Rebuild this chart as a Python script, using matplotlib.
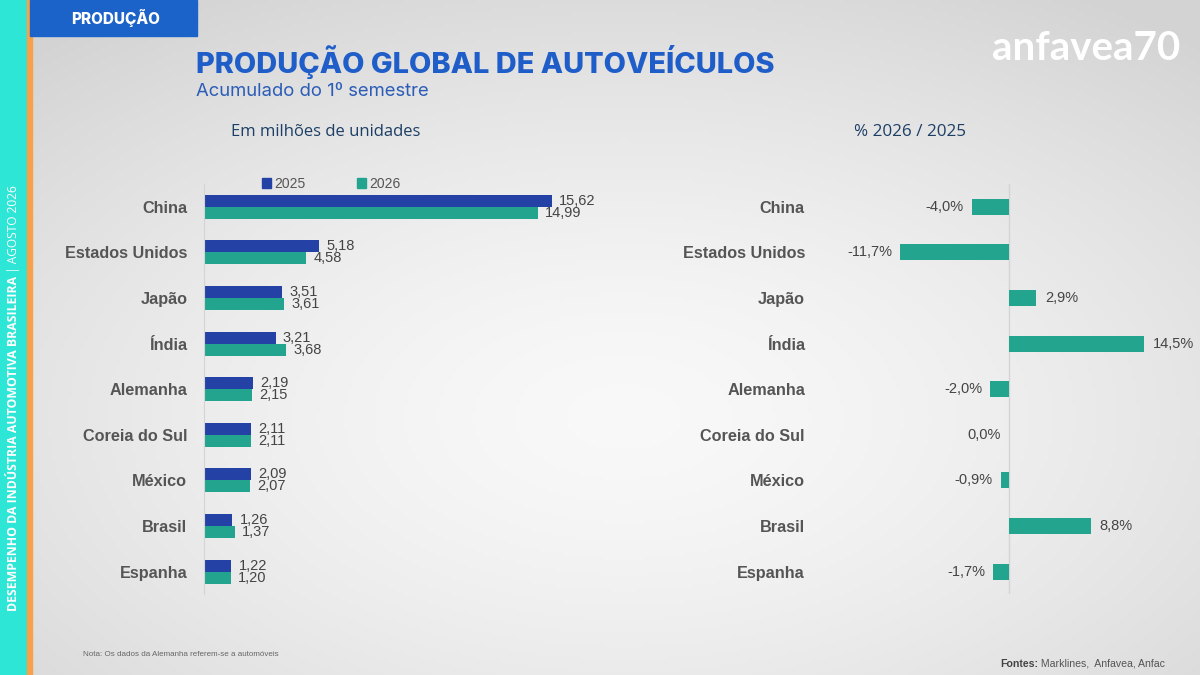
import numpy as np
import matplotlib.pyplot as plt
from matplotlib.patches import Rectangle, Patch
from matplotlib.text import Annotation

# dados (milhões de unidades, 1º semestre)
countries = ["China", "Estados Unidos", "Japão", "Índia", "Alemanha",
             "Coreia do Sul", "México", "Brasil", "Espanha"]
prod_2025 = [15.62, 5.18, 3.51, 3.21, 2.19, 2.11, 2.09, 1.26, 1.22]
prod_2026 = [14.99, 4.58, 3.61, 3.68, 2.15, 2.11, 2.07, 1.37, 1.20]
var_pct = [-4.0, -11.7, 2.9, 14.5, -2.0, 0.0, -0.9, 8.8, -1.7]

BLUE = "#2442a6"
TEAL = "#22a48f"
GRAY_TXT = "#555555"
VAL_TXT = "#444444"
W, H = 1200, 675


def px(x, y):
    return x / W, 1 - y / H


def br(v, fmt="{:.2f}"):
    return fmt.format(v).replace(".", ",")


fig = plt.figure(figsize=(12, 6.75), dpi=100)

# fundo com gradiente
bg = fig.add_axes([0, 0, 1, 1], zorder=-10)
xx, yy = np.meshgrid(np.linspace(0, 1, 300), np.linspace(0, 1, 170))
d = np.sqrt(((xx - 0.52) / 0.75) ** 2 + ((yy - 0.62) / 0.75) ** 2)
g = np.clip(0.975 - 0.15 * d ** 1.5, 0.83, 0.975)
bg.imshow(np.dstack([g, g, g]), extent=[0, 1, 0, 1], aspect="auto", origin="upper")
bg.set_xlim(0, 1)
bg.set_ylim(0, 1)
bg.axis("off")

# faixa lateral
fig.patches.append(Rectangle((0, 0), 27 / W, 1, transform=fig.transFigure,
                             color="#2ee6d6", zorder=1))
fig.patches.append(Rectangle((27 / W, 0), 5 / W, 1, transform=fig.transFigure,
                             color="#f7a24b", zorder=1))
t1 = fig.text(14 / W, 1 - 611 / H, "DESEMPENHO DA INDÚSTRIA AUTOMOTIVA BRASILEIRA",
              rotation=90, ha="center", va="bottom", color="white",
              fontsize=8.8, fontweight="bold", family="Open Sans", zorder=5)
fig.add_artist(Annotation(" | AGOSTO 2026", xy=(0.5, 1), xycoords=t1, rotation=90,
                          ha="center", va="bottom", color="white", fontsize=8.6,
                          family="Open Sans", annotation_clip=False, zorder=5))

# cabeçalho
fig.patches.append(Rectangle((30 / W, 1 - 36 / H), 167 / W, 36 / H,
                             transform=fig.transFigure, color="#1b63c9", zorder=1))
fig.text(*px(116, 18), "PRODUÇÃO", ha="center", va="center", color="white",
         fontsize=11, fontweight="heavy", family="Inter")

fig.text(*px(196, 62), "PRODUÇÃO GLOBAL DE AUTOVEÍCULOS", ha="left", va="center",
         color="#1f5ec8", fontsize=20.9, fontweight="heavy", family="Inter")
fig.text(*px(196, 91), "Acumulado do 1º semestre", ha="left", va="center",
         color="#2b5cb8", fontsize=13.3, family="Inter")
fig.text(*px(326, 132), "Em milhões de unidades", ha="center", va="center",
         color="#1d3f66", fontsize=12, family="Open Sans")
fig.text(*px(910, 132), "% 2026 / 2025", ha="center", va="center",
         color="#1d3f66", fontsize=12.3, family="Open Sans")

# logo
fig.text(*px(1180, 48), "anfavea70", ha="right", va="center", color="white",
         fontsize=29, fontweight="bold", family="Lato")

# rodapé
fig.text(*px(83, 654), "Nota: Os dados da Alemanha referem-se a automóveis",
         ha="left", va="center", color="#666666", fontsize=5.8, family="Liberation Sans")
t_src = fig.text(*px(1165, 664), " Marklines,  Anfavea, Anfac", ha="right", va="center",
                 color="#555555", fontsize=7.6, family="Liberation Sans")
fig.add_artist(Annotation("Fontes:", xy=(0, 0.5), xycoords=t_src, ha="right", va="center",
                          color="#444444", fontsize=7.6, fontweight="bold",
                          family="Liberation Sans", annotation_clip=False))

y = np.arange(len(countries))
top, bottom = 184, 594.4

# painel esquerdo: produção
ax1 = fig.add_axes([204 / W, 1 - bottom / H, 400 / W, (bottom - top) / H])
ax1.patch.set_alpha(0)
ax1.barh(y - 0.13, prod_2025, height=0.263, color=BLUE, label="2025")
ax1.barh(y + 0.13, prod_2026, height=0.263, color=TEAL, label="2026")
for i in range(len(countries)):
    ax1.text(prod_2025[i] + 0.33, y[i] - 0.13, br(prod_2025[i]), va="center",
             ha="left", fontsize=10.5, color=VAL_TXT, family="Liberation Sans")
    ax1.text(prod_2026[i] + 0.33, y[i] + 0.13, br(prod_2026[i]), va="center",
             ha="left", fontsize=10.5, color=VAL_TXT, family="Liberation Sans")
ax1.set_xlim(0, 400 / 22.28)
ax1.set_ylim(len(countries) - 0.5, -0.5)
ax1.set_yticks(y)
ax1.set_yticklabels(countries, fontsize=11.7, fontweight="bold", color=GRAY_TXT,
                    family="Liberation Sans")
ax1.tick_params(axis="y", length=0, pad=12)
ax1.set_xticks([])
for s in ["top", "right", "bottom"]:
    ax1.spines[s].set_visible(False)
ax1.spines["left"].set_color("#d4d4d4")
ax1.legend(handles=[Patch(color=BLUE, label="2025"), Patch(color=TEAL, label="2026")],
           loc="center left", bbox_to_anchor=(45 / 400, 1.0), ncol=2, frameon=False,
           handlelength=0.7, handleheight=0.7, handletextpad=0.2, columnspacing=3.7,
           prop={"family": "Liberation Sans", "size": 10}, labelcolor=GRAY_TXT)

# painel direito: variação %
ax2 = fig.add_axes([830 / W, 1 - bottom / H, 340 / W, (bottom - top) / H])
ax2.patch.set_alpha(0)
ax2.barh(y, var_pct, height=0.35, color=TEAL)
for i, v in enumerate(var_pct):
    lab = br(v, "{:.1f}") + "%"
    if v > 0:
        ax2.text(v + 0.95, y[i], lab, ha="left", va="center", fontsize=10.5,
                 color=VAL_TXT, family="Liberation Sans")
    else:
        ax2.text(v - 0.85, y[i], lab, ha="right", va="center", fontsize=10.5,
                 color=VAL_TXT, family="Liberation Sans")
ax2.set_xlim(-179 / 9.32, 161 / 9.32)
ax2.set_ylim(len(countries) - 0.5, -0.5)
ax2.set_yticks(y)
ax2.set_yticklabels(countries, fontsize=11.7, fontweight="bold", color=GRAY_TXT,
                    family="Liberation Sans")
ax2.tick_params(axis="y", length=0, pad=18)
ax2.set_xticks([])
for s in ["top", "right", "bottom", "left"]:
    ax2.spines[s].set_visible(False)
ax2.axvline(0, color="#d4d4d4", lw=1, zorder=0)

fig.savefig("out.png", dpi=100)
